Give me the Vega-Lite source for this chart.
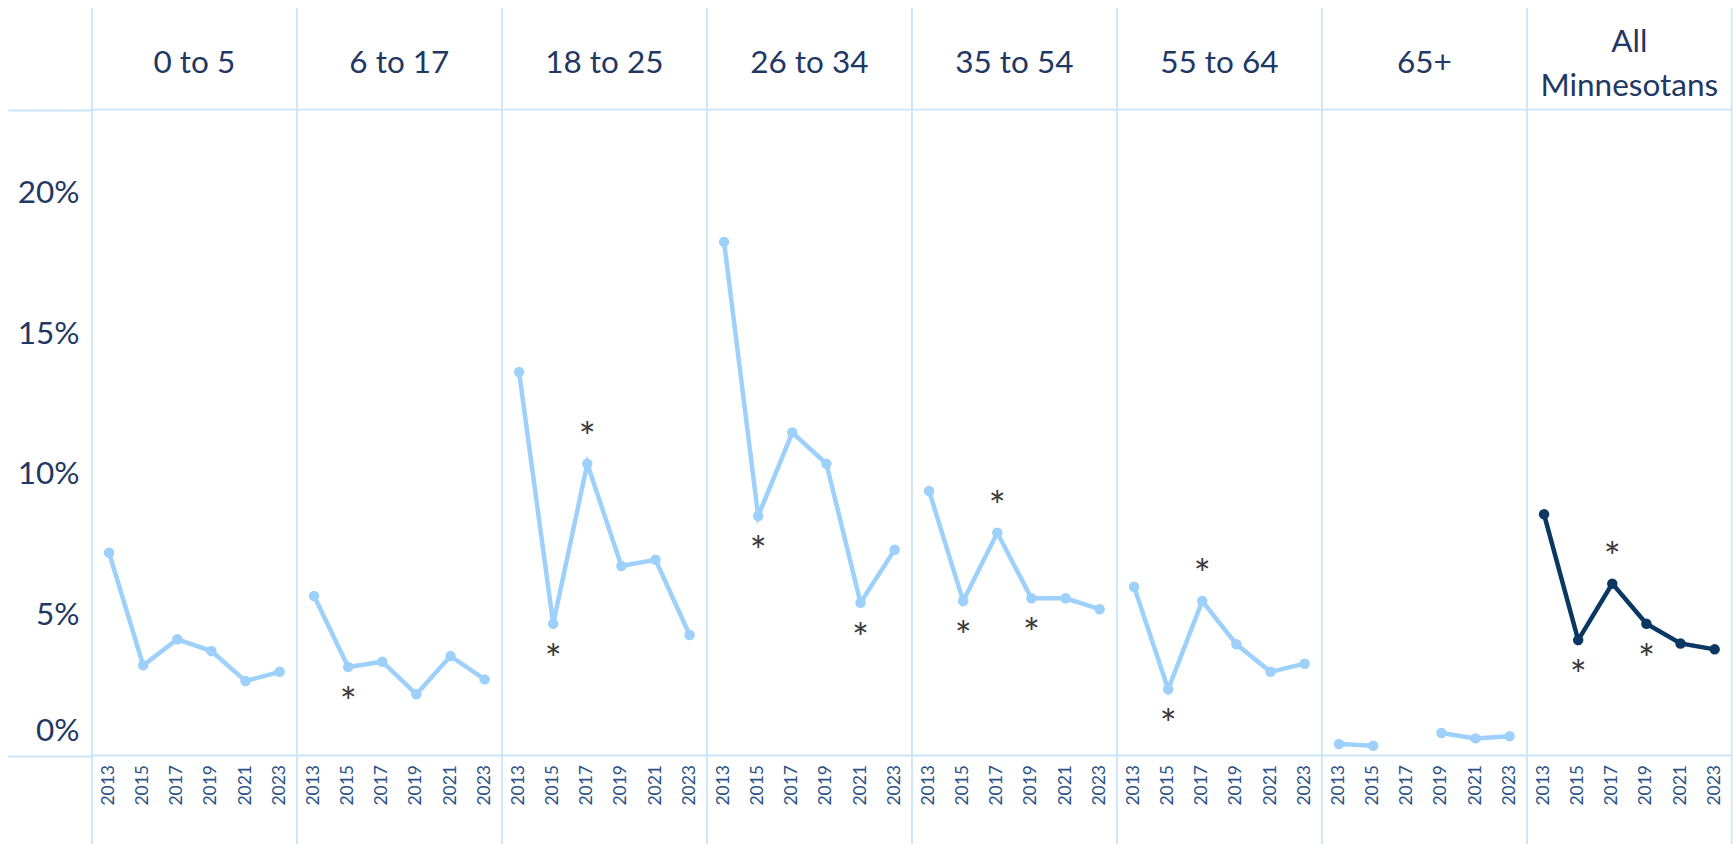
{
  "$schema": "https://vega.github.io/schema/vega-lite/v6.json",
  "padding": {"left": 0, "top": 7, "right": 0, "bottom": 0},
  "background": "white",
  "bounds": "flush",
  "data": {"values": [
    {"group": "0 to 5", "year": 2013, "value": 0.0722},
    {"group": "0 to 5", "year": 2015, "value": 0.0321},
    {"group": "0 to 5", "year": 2017, "value": 0.0414},
    {"group": "0 to 5", "year": 2019, "value": 0.0372},
    {"group": "0 to 5", "year": 2021, "value": 0.0265},
    {"group": "0 to 5", "year": 2023, "value": 0.0298},
    {"group": "6 to 17", "year": 2013, "value": 0.0568},
    {"group": "6 to 17", "year": 2015, "value": 0.0315, "sig": "decrease"},
    {"group": "6 to 17", "year": 2017, "value": 0.0334},
    {"group": "6 to 17", "year": 2019, "value": 0.0218},
    {"group": "6 to 17", "year": 2021, "value": 0.0354},
    {"group": "6 to 17", "year": 2023, "value": 0.0271},
    {"group": "18 to 25", "year": 2013, "value": 0.1366},
    {"group": "18 to 25", "year": 2015, "value": 0.0469, "sig": "decrease"},
    {"group": "18 to 25", "year": 2017, "value": 0.1039, "sig": "increase"},
    {"group": "18 to 25", "year": 2019, "value": 0.0675},
    {"group": "18 to 25", "year": 2021, "value": 0.0697},
    {"group": "18 to 25", "year": 2023, "value": 0.0429},
    {"group": "26 to 34", "year": 2013, "value": 0.1829},
    {"group": "26 to 34", "year": 2015, "value": 0.0853, "sig": "decrease"},
    {"group": "26 to 34", "year": 2017, "value": 0.1150},
    {"group": "26 to 34", "year": 2019, "value": 0.1039},
    {"group": "26 to 34", "year": 2021, "value": 0.0544, "sig": "decrease"},
    {"group": "26 to 34", "year": 2023, "value": 0.0733},
    {"group": "35 to 54", "year": 2013, "value": 0.0942},
    {"group": "35 to 54", "year": 2015, "value": 0.0550, "sig": "decrease"},
    {"group": "35 to 54", "year": 2017, "value": 0.0793, "sig": "increase"},
    {"group": "35 to 54", "year": 2019, "value": 0.0560, "sig": "decrease"},
    {"group": "35 to 54", "year": 2021, "value": 0.0560},
    {"group": "35 to 54", "year": 2023, "value": 0.0521},
    {"group": "55 to 64", "year": 2013, "value": 0.0601},
    {"group": "55 to 64", "year": 2015, "value": 0.0236, "sig": "decrease"},
    {"group": "55 to 64", "year": 2017, "value": 0.0550, "sig": "increase"},
    {"group": "55 to 64", "year": 2019, "value": 0.0396},
    {"group": "55 to 64", "year": 2021, "value": 0.0298},
    {"group": "55 to 64", "year": 2023, "value": 0.0327},
    {"group": "65+", "year": 2013, "value": 0.0041},
    {"group": "65+", "year": 2015, "value": 0.0035},
    {"group": "65+", "year": 2017, "value": null},
    {"group": "65+", "year": 2019, "value": 0.0080},
    {"group": "65+", "year": 2021, "value": 0.0061},
    {"group": "65+", "year": 2023, "value": 0.0069},
    {"group": "All Minnesotans", "year": 2013, "value": 0.0859},
    {"group": "All Minnesotans", "year": 2015, "value": 0.0411, "sig": "decrease"},
    {"group": "All Minnesotans", "year": 2017, "value": 0.0612, "sig": "increase"},
    {"group": "All Minnesotans", "year": 2019, "value": 0.0469, "sig": "decrease"},
    {"group": "All Minnesotans", "year": 2021, "value": 0.0399},
    {"group": "All Minnesotans", "year": 2023, "value": 0.0378}
  ]},
  "facet": {
    "column": {
      "field": "group", "type": "nominal",
      "sort": ["0 to 5", "6 to 17", "18 to 25", "26 to 34", "35 to 54", "55 to 64", "65+", "All Minnesotans"],
      "header": null
    }
  },
  "spacing": 0,
  "spec": {
    "width": 204.7,
    "height": 837,
    "layer": [
      {
        "transform": [{"filter": "datum.year == 2013"}],
        "mark": {"type": "rule", "color": "#c9e4fb", "strokeWidth": 1.8},
        "encoding": {
          "x": {"field": "year", "type": "ordinal", "bandPosition": 0, "scale": {"type": "band", "paddingInner": 0, "paddingOuter": 0}},
          "y": {"datum": -0.03187, "type": "quantitative"},
          "y2": {"datum": 0.2662}
        }
      },
      {
        "transform": [{"filter": "datum.year == 2023 && datum.group == 'All Minnesotans'"}],
        "mark": {"type": "rule", "color": "#c9e4fb", "strokeWidth": 1.8},
        "encoding": {
          "x": {"field": "year", "type": "ordinal", "bandPosition": 1, "scale": {"type": "band", "paddingInner": 0, "paddingOuter": 0}},
          "y": {"datum": -0.03187, "type": "quantitative"},
          "y2": {"datum": 0.2662}
        }
      },
      {
        "transform": [{"filter": "datum.year == 2013"}],
        "mark": {"type": "rule", "color": "#c9e4fb", "strokeWidth": 1.8},
        "encoding": {"y": {"datum": 0, "type": "quantitative"}}
      },
      {
        "transform": [{"filter": "datum.year == 2013"}],
        "mark": {"type": "rule", "color": "#c9e4fb", "strokeWidth": 1.8},
        "encoding": {"y": {"datum": 0.23, "type": "quantitative"}}
      },
      {
        "mark": {"type": "line", "strokeWidth": 4.5, "invalid": "break-paths-filter-domains"},
        "encoding": {
          "x": {
            "field": "year", "type": "ordinal",
            "scale": {"type": "band", "paddingInner": 0, "paddingOuter": 0},
            "axis": {
              "orient": "bottom", "offset": -89.5, "title": null, "domain": false, "ticks": false, "grid": false,
              "labelAngle": 270, "labelAlign": "right", "labelBaseline": "middle", "labelPadding": 9,
              "labelFont": "Lato", "labelFontSize": 17.5, "labelColor": "#2b5287",
              "labelOverlap": false, "labelFlush": false
            }
          },
          "y": {
            "field": "value", "type": "quantitative",
            "scale": {"domain": [-0.03187, 0.2662], "nice": false, "zero": false},
            "axis": {
              "values": [0, 0.05, 0.1, 0.15, 0.2, 0.23],
              "format": ".0%",
              "labelExpr": "datum.value > 0.21 ? '' : datum.label",
              "title": null, "domain": false, "grid": false,
              "ticks": true, "tickSize": 84, "tickColor": "#c9e4fb", "tickWidth": 1.8,
              "tickOpacity": {"condition": {"test": "datum.value == 0 || datum.value > 0.21", "value": 1}, "value": 0},
              "labelPadding": -71,
              "labelOffset": {"condition": {"test": "datum.value == 0", "value": -24}, "value": 0},
              "labelFont": "Lato", "labelFontSize": 31.5, "labelColor": "#1f3864",
              "minExtent": 92, "maxExtent": 92
            }
          },
          "color": {"condition": {"test": "datum.group === 'All Minnesotans'", "value": "#0b3862"}, "value": "#9dd0fb"}
        }
      },
      {
        "mark": {"type": "point", "filled": true, "opacity": 1, "size": 110},
        "encoding": {
          "x": {"field": "year", "type": "ordinal", "scale": {"type": "band", "paddingInner": 0, "paddingOuter": 0}},
          "y": {"field": "value", "type": "quantitative"},
          "color": {"condition": {"test": "datum.group === 'All Minnesotans'", "value": "#0b3862"}, "value": "#9dd0fb"}
        }
      },
      {
        "transform": [{"filter": "datum.sig == 'increase'"}],
        "mark": {"type": "text", "font": "Lato", "fontSize": 40, "color": "#3a3a3a", "baseline": "alphabetic", "align": "center", "dy": -12},
        "encoding": {
          "x": {"field": "year", "type": "ordinal", "scale": {"type": "band", "paddingInner": 0, "paddingOuter": 0}},
          "y": {"field": "value", "type": "quantitative"},
          "text": {"value": "*"}
        }
      },
      {
        "transform": [{"filter": "datum.sig == 'decrease'"}],
        "mark": {"type": "text", "font": "Lato", "fontSize": 40, "color": "#3a3a3a", "baseline": "alphabetic", "align": "center", "dy": 50},
        "encoding": {
          "x": {"field": "year", "type": "ordinal", "scale": {"type": "band", "paddingInner": 0, "paddingOuter": 0}},
          "y": {"field": "value", "type": "quantitative"},
          "text": {"value": "*"}
        }
      },
      {
        "transform": [{"filter": "datum.year == 2013 && datum.group !== 'All Minnesotans'"}],
        "mark": {"type": "text", "font": "Lato", "fontSize": 31.5, "color": "#1f3864", "baseline": "middle", "align": "center"},
        "encoding": {
          "y": {"datum": 0.2461, "type": "quantitative"},
          "text": {"field": "group"}
        }
      },
      {
        "transform": [{"filter": "datum.year == 2013 && datum.group === 'All Minnesotans'"}],
        "mark": {"type": "text", "font": "Lato", "fontSize": 31.5, "color": "#1f3864", "baseline": "middle", "align": "center", "lineHeight": 44},
        "encoding": {
          "y": {"datum": 0.2539, "type": "quantitative"},
          "text": {"value": ["All", "Minnesotans"]}
        }
      }
    ]
  },
  "config": {
    "view": {"stroke": null},
    "font": "Lato"
  }
}
